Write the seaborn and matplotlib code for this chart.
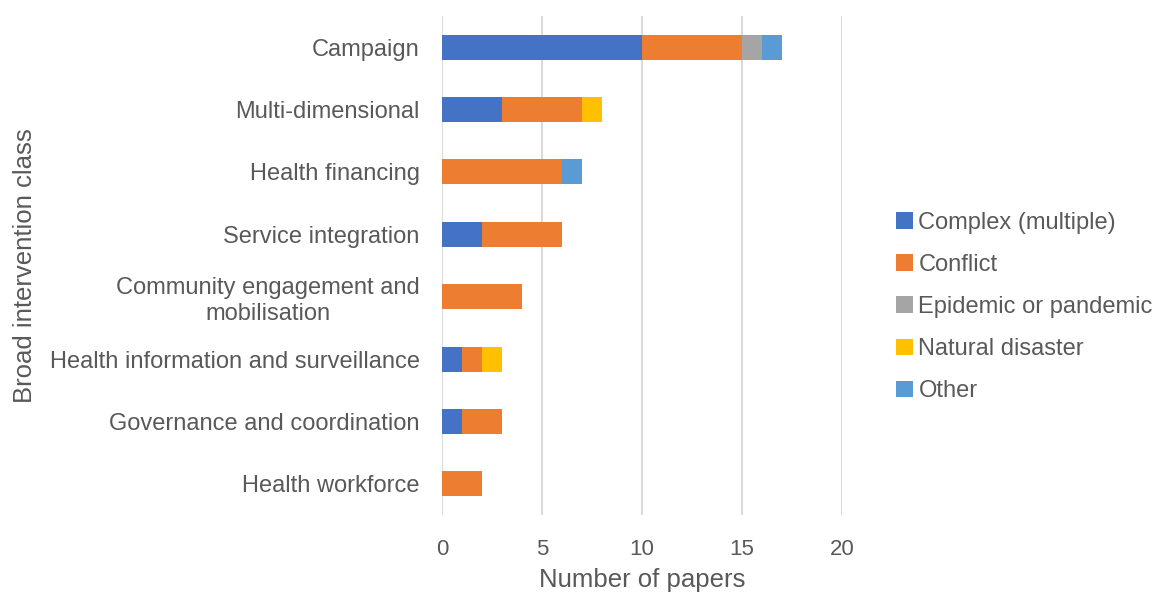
import numpy as np
import pandas as pd
import matplotlib
matplotlib.use("Agg")
import matplotlib.pyplot as plt
from matplotlib.patches import Patch
import seaborn as sns

categories = [
    "Campaign",
    "Multi-dimensional",
    "Health financing",
    "Service integration",
    "Community engagement and\nmobilisation",
    "Health information and surveillance",
    "Governance and coordination",
    "Health workforce",
]
series_names = ["Complex (multiple)", "Conflict", "Epidemic or pandemic",
                "Natural disaster", "Other"]
complex_multiple = [10, 3, 0, 2, 0, 1, 1, 0]
conflict = [5, 4, 6, 4, 4, 1, 2, 2]
epidemic = [1, 0, 0, 0, 0, 0, 0, 0]
natural_disaster = [0, 1, 0, 0, 0, 1, 0, 0]
other = [1, 0, 1, 0, 0, 0, 0, 0]
x_ticks = [0, 5, 10, 15, 20]

colors = ["#4472C4", "#ED7D31", "#A5A5A5", "#FFC000", "#5B9BD5"]
text_color = "#595959"

sns.set_theme(style="white")
plt.rcParams["font.family"] = ["Liberation Sans", "DejaVu Sans"]

df = pd.DataFrame({
    "category": categories,
    series_names[0]: complex_multiple,
    series_names[1]: conflict,
    series_names[2]: epidemic,
    series_names[3]: natural_disaster,
    series_names[4]: other,
})

fig = plt.figure(figsize=(11.53, 5.94), dpi=100)
ax = fig.add_axes([442 / 1153, 1 - 515 / 594, 400 / 1153, 499 / 594])

# Stack by drawing cumulative totals from the outermost series inward
cum = df[series_names].cumsum(axis=1)
for name, color in reversed(list(zip(series_names, colors))):
    sns.barplot(x=cum[name], y=df["category"], orient="h", color=color,
                width=0.4, ax=ax, saturation=1, edgecolor="none", zorder=3)

ax.set_xlim(0, 20)
ax.set_ylim(7.5, -0.5)
ax.set_xticks(x_ticks)
ax.set_xticklabels([str(t) for t in x_ticks])
ax.grid(axis="x", color="#D9D9D9", linewidth=1.4, zorder=0)
ax.set_axisbelow(True)
for s in ax.spines.values():
    s.set_visible(False)

ax.tick_params(axis="y", length=0, pad=16, labelsize=17, labelcolor=text_color)
ax.tick_params(axis="x", length=0, pad=17, labelsize=16, labelcolor=text_color)
for lbl in ax.get_yticklabels():
    lbl.set_multialignment("center")

ax.set_xlabel("Number of papers", fontsize=18.5, color=text_color, labelpad=6)
ax.set_ylabel("Broad intervention class", fontsize=18.5, color=text_color,
              labelpad=9)

handles = [Patch(facecolor=c, edgecolor="none", label=n)
           for n, c in zip(series_names, colors)]
fig.legend(handles=handles, loc="center left",
           bbox_to_anchor=(896 / 1153, 1 - 307 / 594), frameon=False,
           fontsize=17, labelcolor=text_color, handlelength=0.7,
           handleheight=0.7, handletextpad=0.25, labelspacing=0.85,
           borderaxespad=0, borderpad=0)

fig.savefig("out.png", dpi=100)
